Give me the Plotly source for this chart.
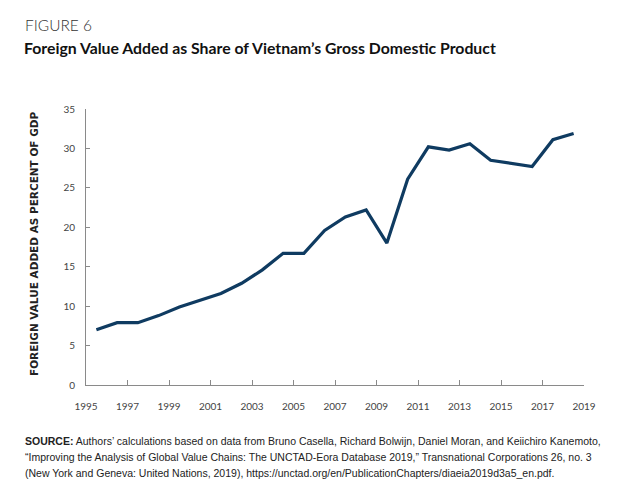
import plotly.graph_objects as go

years = list(range(1995, 2019))
values = [7.0, 7.9, 7.9, 8.8, 9.9, 10.8, 11.6, 12.9, 14.6, 16.7, 16.7, 19.6,
          21.3, 22.2, 18.0, 26.1, 30.2, 29.8, 30.6, 28.5, 28.1, 27.7, 31.1, 31.9]
tick_years = list(range(1995, 2020, 2))
y_ticks = [0, 5, 10, 15, 20, 25, 30, 35]
source_lines = [
    "<b>SOURCE:</b> Authors’ calculations based on data from Bruno Casella, Richard Bolwijn, Daniel Moran, and Keiichiro Kanemoto,",
    "“Improving the Analysis of Global Value Chains: The UNCTAD-Eora Database 2019,” Transnational Corporations 26, no. 3",
    "(New York and Geneva: United Nations, 2019), https://unctad.org/en/PublicationChapters/diaeia2019d3a5_en.pdf.",
]

W, H = 630, 491
L, R, T, B = 86, 584, 109, 385

def px(x):
    return (x - L) / (R - L)

def py(y):
    return (B - y) / (B - T)

fig = go.Figure()
fig.add_trace(go.Scatter(
    x=[y + 0.5 for y in years], y=values, mode="lines",
    line=dict(color="#0f3b61", width=3.2), hoverinfo="skip", showlegend=False))

axis_font = dict(family="Lato, Open Sans, sans-serif", size=10, color="#444")
fig.update_layout(
    width=W, height=H,
    margin=dict(l=L, r=W - R, t=T, b=H - B, pad=0),
    paper_bgcolor="white", plot_bgcolor="white",
    xaxis=dict(range=[1995, 2019], tickvals=tick_years, ticktext=[str(t) for t in tick_years],
               showgrid=False, zeroline=False, showline=True, linecolor="#8a8a8a", linewidth=1,
               ticks="inside", ticklen=5, tickcolor="#8a8a8a", tickfont=axis_font,
               ticklabelstandoff=12),
    yaxis=dict(range=[0, 35], tickvals=y_ticks, showgrid=False, zeroline=False,
               showline=True, linecolor="#8a8a8a", linewidth=1,
               ticks="inside", ticklen=4, tickcolor="#8a8a8a", tickfont=axis_font,
               ticklabelstandoff=8),
    font=dict(family="Lato, Open Sans, sans-serif"),
)

fig.add_annotation(text="FIGURE 6", xref="paper", yref="paper", x=px(23), y=py(36),
                   xanchor="left", yanchor="bottom", showarrow=False,
                   font=dict(family="Lato, sans-serif", size=15.5, color="#333", weight=300))
fig.add_annotation(text="<b>Foreign Value Added as Share of Vietnam’s Gross Domestic Product</b>",
                   xref="paper", yref="paper", x=px(22), y=py(59),
                   xanchor="left", yanchor="bottom", showarrow=False,
                   font=dict(family="Lato, sans-serif", size=15.8, color="#111", weight=900))
fig.add_annotation(text="<b>FOREIGN VALUE ADDED AS PERCENT OF GDP</b>", xref="paper", yref="paper",
                   x=px(34), y=py(244), textangle=-90, showarrow=False,
                   xanchor="center", yanchor="middle",
                   font=dict(family="DejaVu Sans, sans-serif", size=10.5, color="#222"))
for i, line in enumerate(source_lines):
    fig.add_annotation(text=line, xref="paper", yref="paper", x=px(23), y=py(441 + 16 * i),
                       xanchor="left", yanchor="middle", align="left", showarrow=False,
                       font=dict(family="Liberation Sans, Arial, sans-serif", size=10.5, color="#222"))

fig.write_html("out.html", config={"displayModeBar": False},
               post_script="document.body.style.margin='0';")
